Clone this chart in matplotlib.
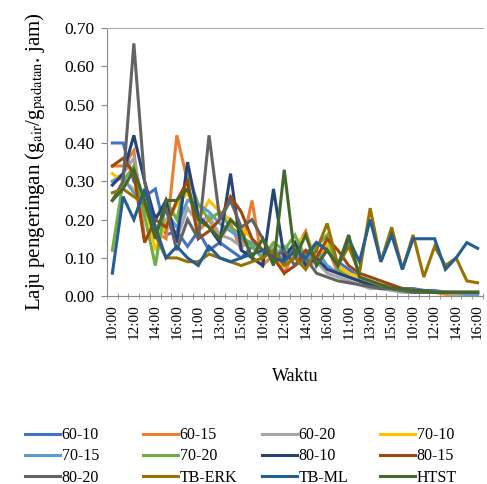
import matplotlib
matplotlib.use("Agg")
import matplotlib.pyplot as plt

plt.rcParams["font.family"] = "Liberation Serif"
plt.rcParams["mathtext.fontset"] = "stix"

# kategori waktu: 5 hari x jam 10..16
jam = [10, 11, 12, 13, 14, 15, 16] * 5
label_waktu = [f"{h}:00" for h in jam]

s_60_10 = [0.40,0.40,0.30,0.26,0.28,0.16,0.17,0.13,0.17,0.12,0.14,0.12,0.10,0.13,0.10,0.12,0.09,0.13,0.11,0.14,0.12,0.09,0.07,0.05,0.04,0.03,0.025,0.02,0.02,0.015,0.015,0.01,0.01,0.01,0.01]
s_60_15 = [0.34,0.34,0.38,0.15,0.17,0.15,0.42,0.30,0.17,0.20,0.15,0.19,0.12,0.25,0.08,0.11,0.06,0.12,0.17,0.08,0.13,0.06,0.05,0.04,0.03,0.02,0.02,0.015,0.01,0.01,0.01,0.005,0.005,0.005,0.005]
s_60_20 = [0.30,0.32,0.36,0.22,0.18,0.20,0.15,0.23,0.19,0.21,0.16,0.15,0.13,0.14,0.11,0.13,0.10,0.11,0.08,0.09,0.06,0.05,0.04,0.03,0.02,0.02,0.015,0.01,0.01,0.01,0.01,0.01,0.005,0.005,0.005]
s_70_10 = [0.32,0.30,0.28,0.25,0.12,0.19,0.24,0.27,0.20,0.25,0.22,0.20,0.18,0.15,0.12,0.10,0.08,0.13,0.16,0.10,0.14,0.08,0.06,0.05,0.04,0.03,0.02,0.02,0.015,0.01,0.01,0.01,0.01,0.01,0.01]
s_70_15 = [0.30,0.31,0.27,0.24,0.21,0.22,0.18,0.25,0.24,0.22,0.19,0.17,0.15,0.14,0.12,0.10,0.13,0.11,0.09,0.12,0.08,0.06,0.05,0.04,0.03,0.02,0.02,0.015,0.01,0.01,0.01,0.01,0.01,0.005,0.005]
s_70_20 = [0.12,0.30,0.34,0.21,0.08,0.25,0.20,0.32,0.24,0.20,0.22,0.18,0.16,0.13,0.10,0.14,0.12,0.16,0.10,0.13,0.16,0.07,0.05,0.04,0.03,0.025,0.02,0.015,0.01,0.01,0.01,0.01,0.01,0.01,0.01]
s_80_10 = [0.29,0.32,0.42,0.30,0.20,0.25,0.14,0.35,0.21,0.18,0.14,0.32,0.12,0.10,0.08,0.28,0.10,0.14,0.08,0.10,0.07,0.06,0.05,0.04,0.03,0.02,0.02,0.015,0.015,0.01,0.01,0.01,0.01,0.01,0.01]
s_80_15 = [0.34,0.36,0.32,0.14,0.20,0.18,0.25,0.30,0.15,0.17,0.20,0.26,0.22,0.15,0.12,0.10,0.06,0.08,0.12,0.10,0.15,0.12,0.08,0.06,0.05,0.04,0.03,0.02,0.015,0.01,0.01,0.01,0.01,0.01,0.01]
s_80_20 = [0.25,0.30,0.66,0.30,0.16,0.23,0.12,0.20,0.15,0.42,0.20,0.25,0.18,0.20,0.15,0.10,0.12,0.08,0.10,0.06,0.05,0.04,0.035,0.03,0.025,0.02,0.02,0.015,0.01,0.01,0.01,0.01,0.01,0.01,0.01]
s_tb_erk = [0.27,0.28,0.26,0.24,0.16,0.10,0.10,0.09,0.09,0.11,0.10,0.09,0.08,0.09,0.10,0.12,0.08,0.10,0.07,0.12,0.19,0.08,0.13,0.06,0.23,0.09,0.18,0.07,0.16,0.05,0.13,0.08,0.10,0.04,0.035]
s_tb_ml = [0.06,0.26,0.20,0.28,0.18,0.10,0.13,0.10,0.08,0.13,0.10,0.09,0.10,0.11,0.12,0.10,0.09,0.12,0.10,0.14,0.12,0.08,0.15,0.09,0.20,0.09,0.16,0.07,0.15,0.15,0.15,0.07,0.10,0.14,0.125]
s_htst = [0.25,0.28,0.33,0.25,0.15,0.25,0.25,0.28,0.20,0.18,0.15,0.20,0.17,0.10,0.15,0.08,0.33,0.10,0.16,0.08,0.12,0.08,0.16,0.05,0.04,0.03,0.02,0.02,0.015,0.015,0.01,0.01,0.01,0.01,0.01]

nama = ["60-10", "60-15", "60-20", "70-10", "70-15", "70-20",
        "80-10", "80-15", "80-20", "TB-ERK", "TB-ML", "HTST"]
data = [s_60_10, s_60_15, s_60_20, s_70_10, s_70_15, s_70_20,
        s_80_10, s_80_15, s_80_20, s_tb_erk, s_tb_ml, s_htst]
warna = ["#4472C4", "#ED7D31", "#A5A5A5", "#FFC000", "#5B9BD5", "#70AD47",
         "#264478", "#9E480E", "#636363", "#997300", "#255E91", "#43682B"]

fig = plt.figure(figsize=(4.87, 4.84), dpi=100)
ax = fig.add_axes([0.2197, 0.388, 0.772, 0.554])

x = list(range(len(jam)))
garis = []
for nm, y, c in zip(nama, data, warna):
    l, = ax.plot(x, y, color=c, lw=2.2, label=nm, solid_joinstyle="miter")
    garis.append(l)

ax.set_ylim(0, 0.70)
ax.set_xlim(-0.5, len(jam) - 0.5)
ax.set_yticks([i / 10 for i in range(8)])
ax.set_yticklabels([f"{i/10:.2f}" for i in range(8)], fontsize=12.5)
ax.set_xticks(x[::2])
ax.set_xticklabels(label_waktu[::2], rotation=90, fontsize=11)
ax.set_xticks([i - 0.5 for i in range(len(jam) + 1)], minor=True)
ax.tick_params(axis="x", which="major", length=0, pad=6)
ax.tick_params(axis="x", which="minor", length=4, color="#888888", direction="inout")
ax.tick_params(axis="y", length=4, color="#888888", direction="out", pad=5)

for s in ["left", "bottom"]:
    ax.spines[s].set_color("#888888")
ax.spines["top"].set_color("#AAAAAA")
ax.spines["right"].set_visible(False)

ax.set_xlabel("Waktu", fontsize=13, labelpad=21)
ax.set_ylabel(r"Laju pengeringan (g$_{\mathrm{air}}$/g$_{\mathrm{padatan}}$. jam)", fontsize=15, labelpad=12)

# legend: 4 kolom, isi per baris
kolom_x = [25, 143, 262, 380]
for k in range(4):
    idx = [k, k + 4, k + 8]
    lg = fig.legend([garis[i] for i in idx], [nama[i] for i in idx],
                    loc="center left", bbox_to_anchor=(kolom_x[k] / 487, 0.057),
                    frameon=False, fontsize=11.5, handlelength=2.2,
                    handletextpad=0.1, labelspacing=0.32, borderpad=0,
                    borderaxespad=0)

fig.savefig("out.png", dpi=100)
